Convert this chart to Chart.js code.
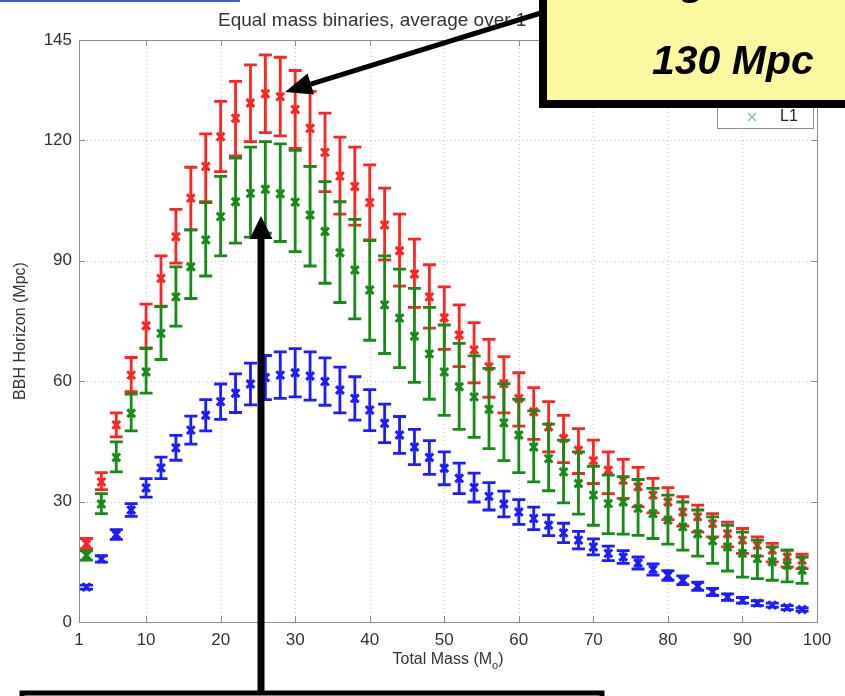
<!DOCTYPE html>
<html>
<head>
<meta charset="utf-8">
<script src="https://cdn.jsdelivr.net/npm/chart.js@4.4.0/dist/chart.umd.min.js"></script>
<style>
  html, body { margin: 0; padding: 0; background: #fff; }
  #wrap { width: 845px; height: 696px; position: relative; overflow: hidden; }
</style>
</head>
<body>
<div id="wrap"><canvas id="chart" width="845" height="696"></canvas></div>
<script>
// total mass (solar masses) of each point
const masses = [2, 4, 6, 8, 10, 12, 14, 16, 18, 20, 22, 24, 26, 28, 30, 32, 34, 36, 38, 40,
  42, 44, 46, 48, 50, 52, 54, 56, 58, 60, 62, 64, 66, 68, 70, 72, 74, 76, 78, 80,
  82, 84, 86, 88, 90, 92, 94, 96, 98];
const xTicks = [1, 10, 20, 30, 40, 50, 60, 70, 80, 90, 100];
const yTicks = [0, 30, 60, 90, 120, 145];

// H1 (red)
const h1 = [19.5, 34.9, 49.1, 61.5, 73.8, 85.6, 96.0, 105.6, 113.5, 120.9, 125.5, 129.3, 131.6, 130.9, 127.7, 123.0, 117.0, 111.1, 108.5, 104.5,
  98.9, 92.5, 86.7, 81.0, 75.8, 71.5, 67.8, 63.6, 59.4, 55.7, 52.4, 48.6, 45.7, 42.8, 40.2, 37.8, 35.3, 33.7, 31.6, 29.9,
  27.4, 26.2, 24.5, 22.0, 20.4, 19.1, 17.9, 16.2, 15.4];
const h1Hi = [20.8, 37.2, 52.1, 65.9, 79.2, 91.2, 102.8, 113.3, 121.6, 129.7, 134.7, 138.8, 141.3, 140.7, 137.4, 132.2, 126.8, 120.8, 118.3, 113.9,
  108.1, 101.6, 95.4, 89.0, 83.5, 79.0, 74.6, 70.4, 66.1, 62.1, 58.4, 54.9, 51.5, 48.2, 45.3, 42.4, 40.5, 38.5, 35.8, 33.5,
  31.2, 29.1, 27.0, 24.9, 23.3, 21.2, 19.6, 17.9, 16.9];
const h1Lo = [18.3, 33.0, 46.1, 57.4, 68.2, 78.7, 89.4, 97.7, 104.7, 112.2, 116.1, 119.7, 121.9, 121.1, 118.0, 113.5, 107.2, 101.6, 98.9, 95.2,
  90.2, 83.7, 78.4, 73.2, 67.9, 63.6, 59.6, 56.0, 52.1, 48.8, 45.5, 42.4, 39.7, 37.0, 34.5, 32.0, 30.8, 28.7, 27.2, 25.5,
  23.9, 22.4, 21.2, 18.7, 17.1, 16.4, 15.0, 13.7, 13.3];

// L1 (green)
const l1 = [16.6, 29.4, 41.0, 52.0, 62.3, 71.9, 81.0, 88.5, 95.2, 101.0, 104.7, 106.8, 107.8, 106.7, 104.6, 101.4, 97.3, 92.0, 87.7, 82.7,
  79.0, 75.7, 71.2, 66.8, 62.3, 58.6, 56.1, 53.0, 49.6, 46.6, 43.6, 40.7, 37.4, 34.5, 31.6, 29.5, 29.9, 28.3, 27.0, 25.4,
  23.7, 22.0, 20.2, 18.7, 17.1, 15.8, 15.0, 14.1, 12.9];
const l1Hi = [17.7, 32.0, 44.9, 56.8, 68.2, 78.6, 88.5, 97.7, 104.5, 111.0, 115.6, 118.3, 119.7, 119.1, 117.5, 113.5, 109.7, 104.7, 100.3, 95.0,
  91.2, 87.9, 83.1, 78.4, 74.0, 69.4, 66.3, 63.2, 59.4, 55.5, 52.6, 49.3, 45.3, 42.4, 38.8, 36.6, 36.2, 35.5, 33.3, 31.6,
  29.9, 27.9, 26.2, 24.1, 22.4, 20.4, 18.7, 17.9, 16.2];
const l1Lo = [15.4, 27.0, 37.4, 47.6, 57.0, 65.4, 73.7, 80.6, 86.2, 91.2, 94.4, 95.9, 96.9, 94.8, 92.3, 88.7, 84.4, 79.6, 75.5, 70.2,
  66.9, 63.4, 59.7, 55.5, 51.5, 48.0, 46.0, 43.2, 40.2, 37.2, 34.9, 32.7, 29.7, 26.9, 24.1, 22.0, 21.9, 21.6, 20.8, 19.4,
  17.9, 16.4, 14.6, 12.7, 11.2, 10.8, 10.4, 10.0, 9.6];

// H2 (blue), symmetric errors
const h2 = [8.7, 15.7, 21.8, 27.9, 33.4, 38.4, 43.4, 47.8, 51.5, 54.9, 57.0, 59.3, 60.9, 61.5, 62.1, 61.3, 59.9, 57.8, 55.7, 52.8,
  49.5, 46.6, 43.6, 41.0, 38.3, 35.8, 33.5, 31.3, 29.4, 27.4, 25.8, 24.1, 22.2, 20.4, 18.7, 17.1, 16.2, 14.7, 13.1, 11.6,
  10.4, 8.9, 7.5, 6.2, 5.4, 4.7, 4.2, 3.6, 3.1];
const h2Err = [0.5, 0.8, 1.2, 1.6, 2.3, 2.7, 3.1, 3.5, 3.9, 4.4, 4.8, 5.2, 5.5, 5.8, 6.0, 6.0, 5.9, 5.7, 5.4, 5.1,
  4.8, 4.6, 4.4, 4.2, 4.1, 3.8, 3.6, 3.4, 3.2, 3.1, 2.8, 2.6, 2.4, 2.2, 2.0, 1.8, 1.6, 1.5, 1.4, 1.2,
  1.1, 1.0, 0.9, 0.8, 0.7, 0.6, 0.5, 0.5, 0.4];

const RED = '#ff2424', GREEN = '#178a17', BLUE = '#1c1cff';
const FONT = "'Liberation Sans', Arial, sans-serif";

const makeSet = (label, vals, lo, hi, color) => ({
  label,
  data: masses.map((m, i) => ({ x: m, y: vals[i] })),
  lo, hi,
  showLine: false,
  pointStyle: 'crossRot',
  pointRadius: 5.5,
  pointBorderWidth: 3,
  borderColor: color,
  backgroundColor: color
});

// error bars, drawn with each dataset
const errorBars = {
  id: 'errorBars',
  afterDatasetDraw(chart, args) {
    const ds = chart.data.datasets[args.index];
    const { ctx, scales: { x, y } } = chart;
    ctx.save();
    ctx.strokeStyle = ds.borderColor;
    ctx.lineWidth = 2.8;
    ds.data.forEach((p, i) => {
      const px = x.getPixelForValue(p.x);
      const top = y.getPixelForValue(ds.hi[i]);
      const bot = y.getPixelForValue(ds.lo[i]);
      ctx.beginPath();
      ctx.moveTo(px, top); ctx.lineTo(px, bot);
      ctx.moveTo(px - 6.5, top); ctx.lineTo(px + 6.5, top);
      ctx.moveTo(px - 6.5, bot); ctx.lineTo(px + 6.5, bot);
      ctx.stroke();
    });
    ctx.restore();
  }
};

// matlab style box, dotted grid, inward ticks
const matlabAxes = {
  id: 'matlabAxes',
  beforeDatasetsDraw(chart) {
    const { ctx, chartArea: a, scales: { x, y } } = chart;
    ctx.save();
    ctx.strokeStyle = '#c4c4c4';
    ctx.lineWidth = 1;
    ctx.setLineDash([1, 3]);
    xTicks.slice(1, -1).forEach(v => {
      const px = Math.round(x.getPixelForValue(v)) + 0.5;
      ctx.beginPath(); ctx.moveTo(px, a.top); ctx.lineTo(px, a.bottom); ctx.stroke();
    });
    yTicks.slice(1, -1).forEach(v => {
      const py = Math.round(y.getPixelForValue(v)) + 0.5;
      ctx.beginPath(); ctx.moveTo(a.left, py); ctx.lineTo(a.right, py); ctx.stroke();
    });
    ctx.setLineDash([]);
    ctx.strokeStyle = '#8c8c8c';
    ctx.strokeRect(Math.round(a.left) + 0.5, Math.round(a.top) + 0.5, Math.round(a.right - a.left), Math.round(a.bottom - a.top));
    ctx.beginPath();
    xTicks.forEach(v => {
      const px = Math.round(x.getPixelForValue(v)) + 0.5;
      ctx.moveTo(px, a.bottom); ctx.lineTo(px, a.bottom - 6);
      ctx.moveTo(px, a.top); ctx.lineTo(px, a.top + 6);
    });
    yTicks.forEach(v => {
      const py = Math.round(y.getPixelForValue(v)) + 0.5;
      ctx.moveTo(a.left, py); ctx.lineTo(a.left + 6, py);
      ctx.moveTo(a.right, py); ctx.lineTo(a.right - 6, py);
    });
    ctx.stroke();

    // titles
    ctx.fillStyle = '#333';
    ctx.font = '19px ' + FONT;
    ctx.textAlign = 'left';
    ctx.textBaseline = 'alphabetic';
    ctx.fillText('Equal mass binaries, average over 1', 218, 26);

    ctx.font = '16px ' + FONT;
    const main = 'Total Mass (M';
    const w1 = ctx.measureText(main).width;
    ctx.font = '11px ' + FONT;
    const w2 = ctx.measureText('o').width;
    ctx.font = '16px ' + FONT;
    const w3 = ctx.measureText(')').width;
    const cx = (a.left + a.right) / 2;
    let sx = cx - (w1 + w2 + w3) / 2;
    ctx.fillText(main, sx, 664);
    ctx.font = '11px ' + FONT;
    ctx.fillText('o', sx + w1, 669);
    ctx.font = '16px ' + FONT;
    ctx.fillText(')', sx + w1 + w2, 664);

    ctx.translate(25, (a.top + a.bottom) / 2);
    ctx.rotate(-Math.PI / 2);
    ctx.textAlign = 'center';
    ctx.fillText('BBH Horizon (Mpc)', 0, 0);
    ctx.restore();
  }
};

const arrow = (ctx, x0, y0, x1, y1, w, headLen, headHalf) => {
  const ang = Math.atan2(y1 - y0, x1 - x0);
  const bx = x1 - Math.cos(ang) * headLen, by = y1 - Math.sin(ang) * headLen;
  ctx.lineWidth = w;
  ctx.beginPath(); ctx.moveTo(x0, y0); ctx.lineTo(bx, by); ctx.stroke();
  ctx.beginPath();
  ctx.moveTo(x1, y1);
  ctx.lineTo(bx + Math.sin(ang) * headHalf, by - Math.cos(ang) * headHalf);
  ctx.lineTo(bx - Math.sin(ang) * headHalf, by + Math.cos(ang) * headHalf);
  ctx.closePath(); ctx.fill();
};

// slide annotations on top of the plot
const overlay = {
  id: 'overlay',
  afterDraw(chart) {
    const { ctx } = chart;
    ctx.save();
    // legend (mostly hidden under the note)
    ctx.fillStyle = '#fff';
    ctx.fillRect(717, 56, 96, 72);
    ctx.strokeStyle = '#8c8c8c';
    ctx.lineWidth = 1;
    ctx.strokeRect(717.5, 56.5, 96, 72);
    const items = [['H1', RED, 77], ['H2', BLUE, 97], ['L1', '#7fc47f', 117]];
    ctx.font = '16px ' + FONT;
    ctx.textBaseline = 'middle';
    items.forEach(([t, c, yy]) => {
      ctx.strokeStyle = c; ctx.lineWidth = 1.2;
      ctx.beginPath();
      ctx.moveTo(748, yy - 4); ctx.lineTo(756, yy + 4);
      ctx.moveTo(748, yy + 4); ctx.lineTo(756, yy - 4);
      ctx.stroke();
      ctx.fillStyle = '#222';
      ctx.fillText(t, 780, yy);
    });

    // top left rule of the slide
    ctx.fillStyle = '#3f5fbf';
    ctx.fillRect(0, 0, 240, 2);

    // yellow note
    ctx.fillStyle = '#fbf8a0';
    ctx.fillRect(543, -10, 320, 114);
    ctx.strokeStyle = '#000';
    ctx.lineWidth = 8;
    ctx.strokeRect(543, -10, 320, 114);
    ctx.fillStyle = '#000';
    ctx.font = 'italic bold 41px ' + FONT;
    ctx.textBaseline = 'alphabetic';
    ctx.textAlign = 'left';
    ctx.fillText('g', 681, -5);
    ctx.fillText('130 Mpc', 652, 74);

    // arrows
    ctx.strokeStyle = '#000';
    ctx.fillStyle = '#000';
    arrow(ctx, 541, 13, 285, 92, 5, 27, 11);
    arrow(ctx, 261, 700, 261, 216, 7, 23, 11.5);

    // bottom note box edge
    ctx.fillStyle = '#fff';
    ctx.fillRect(22, 693, 580, 10);
    ctx.strokeStyle = '#000';
    ctx.lineWidth = 5;
    ctx.strokeRect(22, 693, 580, 40);
    ctx.restore();
  }
};

new Chart(document.getElementById('chart'), {
  type: 'scatter',
  data: {
    datasets: [
      makeSet('L1', l1, l1Lo, l1Hi, GREEN),
      makeSet('H1', h1, h1Lo, h1Hi, RED),
      makeSet('H2', h2, h2.map((v, i) => v - h2Err[i]), h2.map((v, i) => v + h2Err[i]), BLUE)
    ]
  },
  options: {
    responsive: false,
    animation: false,
    events: [],
    layout: { padding: { left: 0, right: 28, top: 40, bottom: 0 } },
    plugins: { legend: { display: false }, title: { display: false }, tooltip: { enabled: false } },
    scales: {
      x: {
        type: 'linear', min: 1, max: 100,
        afterBuildTicks: s => { s.ticks = xTicks.map(v => ({ value: v })); },
        afterFit: s => { s.height = 74; },
        grid: { display: false, drawTicks: false },
        border: { display: false },
        ticks: { color: '#333', padding: 8, maxRotation: 0, font: { family: FONT, size: 17 } }
      },
      y: {
        min: 0, max: 145,
        afterBuildTicks: s => { s.ticks = yTicks.map(v => ({ value: v })); },
        afterFit: s => { s.width = 79; },
        grid: { display: false, drawTicks: false },
        border: { display: false },
        ticks: { color: '#333', padding: 7, font: { family: FONT, size: 17 } }
      }
    }
  },
  plugins: [matlabAxes, errorBars, overlay]
});
</script>
</body>
</html>
